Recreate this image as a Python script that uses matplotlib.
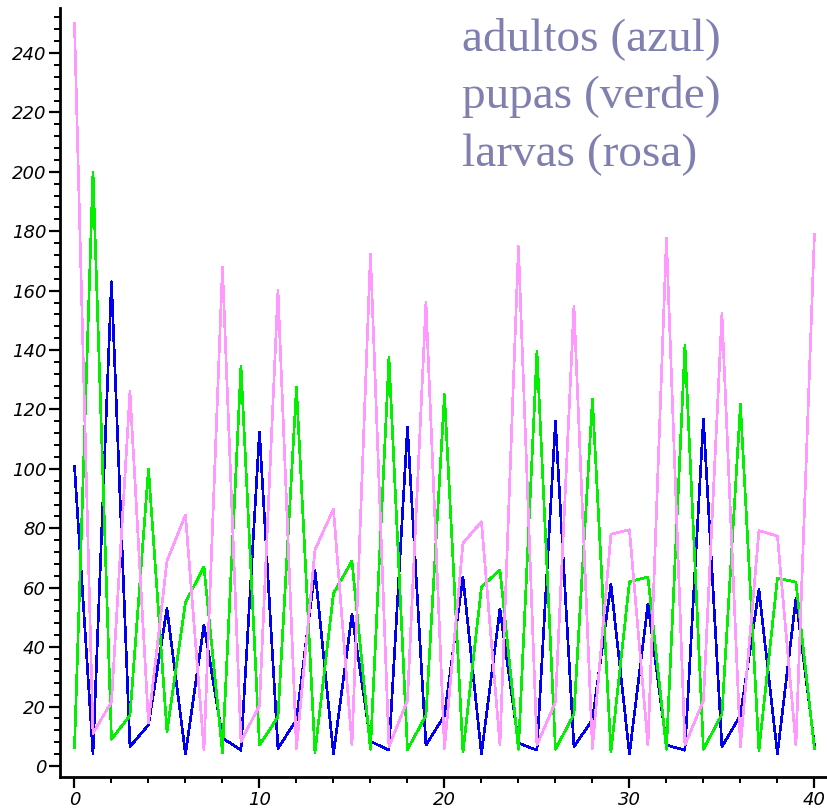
import matplotlib
matplotlib.use("Agg")
from matplotlib import pyplot as plt
from matplotlib.ticker import MultipleLocator

# generaciones
t = list(range(41))

larvas = [250, 11, 21.5, 126, 14.5, 69, 84.5, 5.4, 168, 8.3,
          20.3, 160, 5.9, 72.7, 86.5, 7, 172.4, 6.5, 22, 156,
          5.9, 75, 82.2, 7, 174.8, 7, 21.5, 154.7, 5.9, 78,
          79.5, 7, 177.6, 7, 22, 152.3, 6.5, 79.2, 77.4, 7, 179]

pupas = [6, 200, 9, 17, 100, 11.5, 55, 67, 4.5, 134.5,
         7, 16.5, 127.5, 4.5, 58, 69, 5.6, 137.5, 5.5, 17,
         125, 4.7, 60.3, 66, 5.6, 139.5, 5.6, 17.4, 123.5, 4.7,
         62, 63.6, 5.6, 141.5, 5.6, 17.4, 121.7, 5.2, 63.2, 61.9, 5.8]

adultos = [101, 4, 163, 6.5, 13.8, 53, 4, 47.5, 9.4, 5.3,
           112.5, 5.9, 15.5, 66, 4, 51, 8.3, 5.3, 114, 7,
           17, 63.6, 4, 52.8, 7.7, 5.3, 116, 6.5, 15.5, 61.2,
           4, 54.5, 7, 5.3, 116.8, 6.5, 17, 59.4, 4, 56.4, 7]

fig = plt.figure(figsize=(8.27, 8.11), dpi=100)
ax = fig.add_axes([0.0726, 0.042, 0.9274, 0.948])

ax.plot(t, adultos, color="#0000f0", lw=1.2, zorder=2, antialiased=False)
ax.plot(t, pupas, color="#00f000", lw=1.2, zorder=3, antialiased=False)
ax.plot(t, larvas, color="#ff99ff", lw=1.2, zorder=4, antialiased=False)

ax.set_xlim(-0.78, 40.68)
ax.set_ylim(-3.7, 255.1)

for s in ["top", "right"]:
    ax.spines[s].set_visible(False)
for s in ["left", "bottom"]:
    ax.spines[s].set_linewidth(2)

ax.xaxis.set_major_locator(MultipleLocator(10))
ax.xaxis.set_minor_locator(MultipleLocator(2))
ax.yaxis.set_major_locator(MultipleLocator(20))
ax.yaxis.set_minor_locator(MultipleLocator(4))
ax.tick_params(which="major", length=8, width=1.6, direction="out", pad=2)
ax.tick_params(which="minor", length=4, width=1.4, direction="out")

for lab in ax.get_xticklabels() + ax.get_yticklabels():
    lab.set_fontstyle("oblique")
    lab.set_fontsize(13)
    lab.set_fontfamily("DejaVu Sans")

txt = dict(fontsize=34, family="Liberation Serif", color="#8080b0", va="baseline")
fig.text(462 / 827, 1 - 50 / 811, "adultos (azul)", **txt)
fig.text(462 / 827, 1 - 108 / 811, "pupas (verde)", **txt)
fig.text(462 / 827, 1 - 166 / 811, "larvas (rosa)", **txt)

plt.savefig("out.png")
